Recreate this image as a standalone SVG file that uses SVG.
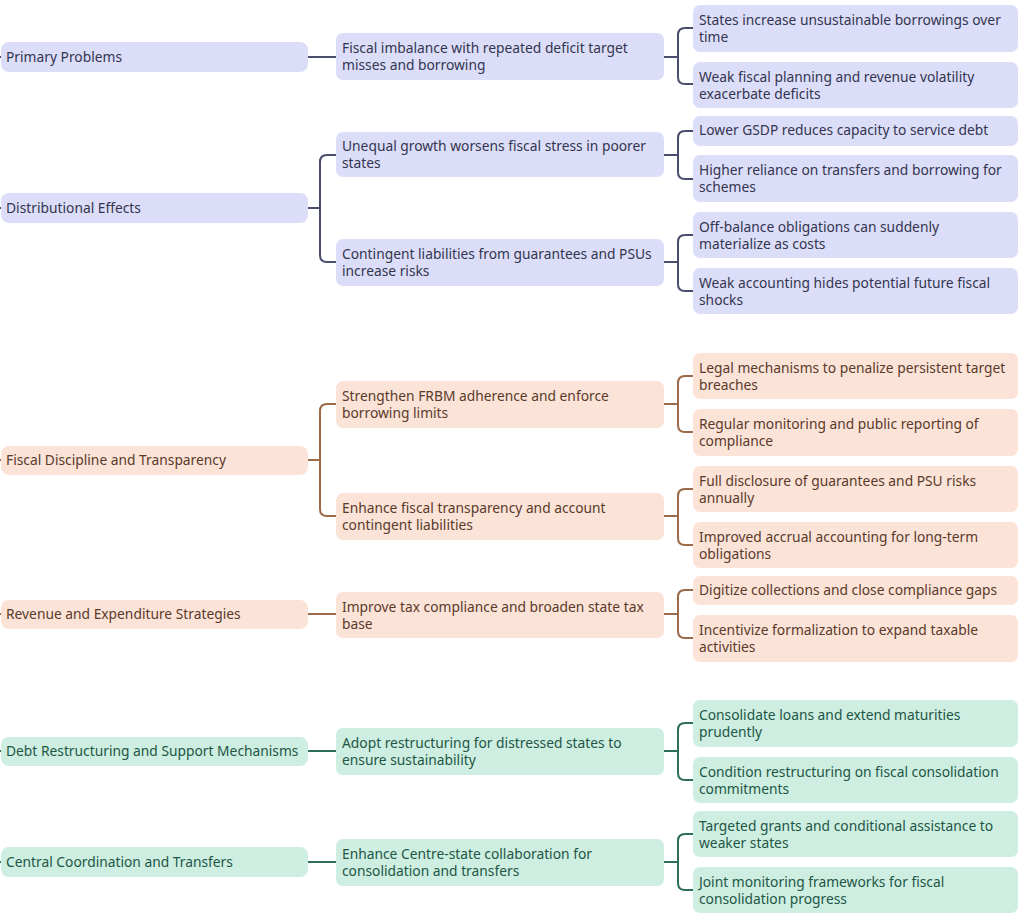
<svg xmlns="http://www.w3.org/2000/svg" width="1024" height="923" viewBox="0 0 1024 923">
<style>
text{font-family:"Noto Sans","Liberation Sans",sans-serif;font-size:13.8px}
.b rect{fill:#dcdef9}.b text{fill:#33354f}
.o rect{fill:#fce3d8}.o text{fill:#5a3a2a}
.g rect{fill:#cdeee0}.g text{fill:#1f5646}
.cb{stroke:#4a4d6e}.co{stroke:#9b6a48}.cg{stroke:#2c6e58}
#connectors path{fill:none;stroke-width:2}
</style>
<rect width="1024" height="923" fill="#ffffff"/>
<g id="connectors">
<path class="cb" d="M0,57H3M308,57H336"/>
<path class="cb" d="M664,57H678M693,28H685Q678,28 678,35V77Q678,84 685,84H693"/>
<path class="cb" d="M0,208H3M308,208H320M336,155H327Q320,155 320,162V255Q320,262 327,262H336"/>
<path class="cb" d="M664,155H678M693,131H685Q678,131 678,138V172Q678,179 685,179H693"/>
<path class="cb" d="M664,262H678M693,235H685Q678,235 678,242V284Q678,291 685,291H693"/>
<path class="co" d="M0,460H3M308,460H320M336,404H327Q320,404 320,411V509Q320,516 327,516H336"/>
<path class="co" d="M664,404H678M693,376H685Q678,376 678,383V425Q678,432 685,432H693"/>
<path class="co" d="M664,516H678M693,489H685Q678,489 678,496V538Q678,545 685,545H693"/>
<path class="co" d="M0,614H3M308,614H336"/>
<path class="co" d="M664,614H678M693,590H685Q678,590 678,597V631Q678,638 685,638H693"/>
<path class="cg" d="M0,751H3M308,751H336"/>
<path class="cg" d="M664,751H678M693,723H685Q678,723 678,730V773Q678,780 685,780H693"/>
<path class="cg" d="M0,862H3M308,862H336"/>
<path class="cg" d="M664,862H678M693,834H685Q678,834 678,841V883Q678,890 685,890H693"/>
</g>

<g id="n-primary" class="b"><rect x="1" y="42" width="307" height="30" rx="8"/><text x="6" y="62">Primary Problems</text></g>
<g id="n-fiscal-imbalance" class="b"><rect x="336" y="33" width="328" height="47" rx="7"/><text x="342" y="53">Fiscal imbalance with repeated deficit target</text><text x="342" y="70">misses and borrowing</text></g>
<g id="n-states-increase" class="b"><rect x="693" y="5" width="325" height="47" rx="7"/><text x="699" y="25">States increase unsustainable borrowings over</text><text x="699" y="42">time</text></g>
<g id="n-weak-planning" class="b"><rect x="693" y="62" width="325" height="46" rx="7"/><text x="699" y="82">Weak fiscal planning and revenue volatility</text><text x="699" y="99">exacerbate deficits</text></g>

<g id="n-distributional" class="b"><rect x="1" y="193" width="307" height="30" rx="8"/><text x="6" y="213">Distributional Effects</text></g>
<g id="n-unequal" class="b"><rect x="336" y="132" width="328" height="45" rx="7"/><text x="342" y="151">Unequal growth worsens fiscal stress in poorer</text><text x="342" y="168">states</text></g>
<g id="n-lower-gsdp" class="b"><rect x="693" y="116" width="325" height="30" rx="7"/><text x="699" y="135">Lower GSDP reduces capacity to service debt</text></g>
<g id="n-higher-reliance" class="b"><rect x="693" y="155" width="325" height="47" rx="7"/><text x="699" y="175">Higher reliance on transfers and borrowing for</text><text x="699" y="192">schemes</text></g>
<g id="n-contingent" class="b"><rect x="336" y="239" width="328" height="47" rx="7"/><text x="342" y="259">Contingent liabilities from guarantees and PSUs</text><text x="342" y="276">increase risks</text></g>
<g id="n-off-balance" class="b"><rect x="693" y="212" width="325" height="46" rx="7"/><text x="699" y="232">Off-balance obligations can suddenly</text><text x="699" y="249">materialize as costs</text></g>
<g id="n-weak-accounting" class="b"><rect x="693" y="268" width="325" height="46" rx="7"/><text x="699" y="288">Weak accounting hides potential future fiscal</text><text x="699" y="305">shocks</text></g>

<g id="n-fiscal-discipline" class="o"><rect x="1" y="446" width="307" height="29" rx="8"/><text x="6" y="465">Fiscal Discipline and Transparency</text></g>
<g id="n-strengthen" class="o"><rect x="336" y="381" width="328" height="47" rx="7"/><text x="342" y="401">Strengthen FRBM adherence and enforce</text><text x="342" y="418">borrowing limits</text></g>
<g id="n-legal" class="o"><rect x="693" y="353" width="325" height="46" rx="7"/><text x="699" y="373">Legal mechanisms to penalize persistent target</text><text x="699" y="390">breaches</text></g>
<g id="n-regular" class="o"><rect x="693" y="409" width="325" height="47" rx="7"/><text x="699" y="429">Regular monitoring and public reporting of</text><text x="699" y="446">compliance</text></g>
<g id="n-enhance-transparency" class="o"><rect x="336" y="493" width="328" height="47" rx="7"/><text x="342" y="513">Enhance fiscal transparency and account</text><text x="342" y="530">contingent liabilities</text></g>
<g id="n-full-disclosure" class="o"><rect x="693" y="466" width="325" height="46" rx="7"/><text x="699" y="486">Full disclosure of guarantees and PSU risks</text><text x="699" y="503">annually</text></g>
<g id="n-accrual" class="o"><rect x="693" y="522" width="325" height="46" rx="7"/><text x="699" y="542">Improved accrual accounting for long-term</text><text x="699" y="559">obligations</text></g>

<g id="n-revenue" class="o"><rect x="1" y="600" width="307" height="29" rx="8"/><text x="6" y="619">Revenue and Expenditure Strategies</text></g>
<g id="n-improve-tax" class="o"><rect x="336" y="592" width="328" height="46" rx="7"/><text x="342" y="612">Improve tax compliance and broaden state tax</text><text x="342" y="629">base</text></g>
<g id="n-digitize" class="o"><rect x="693" y="576" width="325" height="29" rx="7"/><text x="699" y="595">Digitize collections and close compliance gaps</text></g>
<g id="n-incentivize" class="o"><rect x="693" y="615" width="325" height="47" rx="7"/><text x="699" y="635">Incentivize formalization to expand taxable</text><text x="699" y="652">activities</text></g>

<g id="n-debt" class="g"><rect x="1" y="737" width="307" height="29" rx="8"/><text x="6" y="756">Debt Restructuring and Support Mechanisms</text></g>
<g id="n-adopt" class="g"><rect x="336" y="728" width="328" height="47" rx="7"/><text x="342" y="748">Adopt restructuring for distressed states to</text><text x="342" y="765">ensure sustainability</text></g>
<g id="n-consolidate" class="g"><rect x="693" y="700" width="325" height="47" rx="7"/><text x="699" y="720">Consolidate loans and extend maturities</text><text x="699" y="737">prudently</text></g>
<g id="n-condition" class="g"><rect x="693" y="757" width="325" height="46" rx="7"/><text x="699" y="777">Condition restructuring on fiscal consolidation</text><text x="699" y="794">commitments</text></g>

<g id="n-central" class="g"><rect x="1" y="847" width="307" height="30" rx="8"/><text x="6" y="867">Central Coordination and Transfers</text></g>
<g id="n-enhance-centre" class="g"><rect x="336" y="839" width="328" height="47" rx="7"/><text x="342" y="859">Enhance Centre-state collaboration for</text><text x="342" y="876">consolidation and transfers</text></g>
<g id="n-targeted" class="g"><rect x="693" y="811" width="325" height="46" rx="7"/><text x="699" y="831">Targeted grants and conditional assistance to</text><text x="699" y="848">weaker states</text></g>
<g id="n-joint" class="g"><rect x="693" y="867" width="325" height="46" rx="7"/><text x="699" y="887">Joint monitoring frameworks for fiscal</text><text x="699" y="904">consolidation progress</text></g>
</svg>
